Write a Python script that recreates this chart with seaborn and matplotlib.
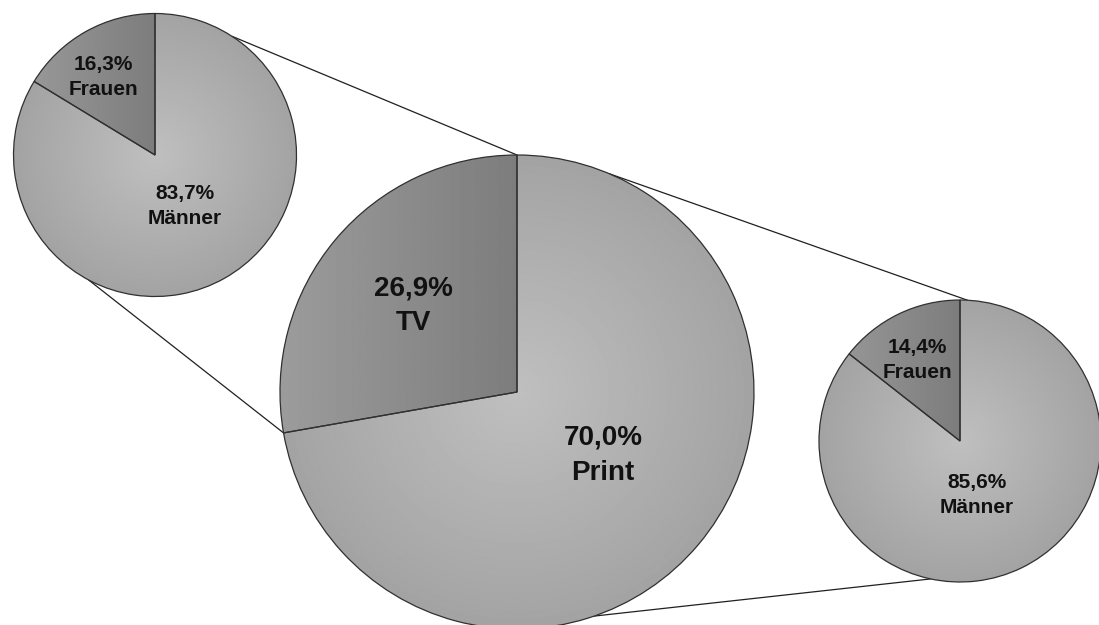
import numpy as np
import matplotlib
matplotlib.use("Agg")
import matplotlib.pyplot as plt
import seaborn as sns

# ---- data ----
media_labels = ["TV", "Print"]
media_values = [26.9, 70.0]
tv_labels = ["Frauen", "Männer"]
tv_values = [16.3, 83.7]
print_labels = ["Frauen", "Männer"]
print_values = [14.4, 85.6]

sns.set_theme(style="white")
plt.rcParams["font.family"] = ["Liberation Sans", "DejaVu Sans"]

W, H = 1099, 625
fig = plt.figure(figsize=(W / 100, H / 100), dpi=100)
ax = fig.add_axes([0, 0, 1, 1])
ax.set_xlim(0, W)
ax.set_ylim(0, H)
ax.set_aspect("equal")
ax.axis("off")

big_c, big_r = (517, 233), 237
left_c, left_r = (155, 470), 141.5
right_c, right_r = (960, 184), 141

def fmt(v):
    return f"{v:.1f}%".replace(".", ",")

def shade(wedge, cx, cy, r, kind, c0, c1):
    n = 500
    xs = np.linspace(cx - r, cx + r, n)
    ys = np.linspace(cy - r, cy + r, n)
    X, Y = np.meshgrid(xs, ys)
    if kind == "radial":
        t = np.hypot(X - cx, Y - cy) / r
    else:
        t = (X - (cx - r)) / r
    t = np.clip(t, 0, 1)
    img = c0 + (c1 - c0) * t
    im = ax.imshow(img, cmap="gray", vmin=0, vmax=1, origin="lower",
                   extent=(cx - r, cx + r, cy - r, cy + r), zorder=2,
                   interpolation="bilinear")
    im.set_clip_path(wedge)

def draw_pie(values, center, r):
    wedges, _ = ax.pie(values, center=center, radius=r, startangle=90,
                       counterclock=True, frame=False,
                       wedgeprops=dict(edgecolor="#303030", linewidth=0.9,
                                       facecolor="none", zorder=3))
    cx, cy = center
    shade(wedges[0], cx, cy, r, "linear", 0.61, 0.49)
    shade(wedges[1], cx, cy, r, "radial", 0.75, 0.64)
    return wedges

draw_pie(media_values, big_c, big_r)
draw_pie(tv_values, left_c, left_r)
draw_pie(print_values, right_c, right_r)
ax.set_xlim(0, W)
ax.set_ylim(0, H)

def pt(c, r, ang):
    a = np.deg2rad(ang)
    return c[0] + r * np.cos(a), c[1] + r * np.sin(a)

tv_end = 90 + 360 * media_values[0] / sum(media_values)
connectors = [
    (pt(left_c, left_r, 57), pt(big_c, big_r, 90)),
    (pt(left_c, left_r, 242), pt(big_c, big_r, tv_end)),
    (pt(big_c, big_r, 67), pt(right_c, right_r, 87)),
    (pt(big_c, big_r, 289), pt(right_c, right_r, 258)),
]
for p0, p1 in connectors:
    ax.plot([p0[0], p1[0]], [p0[1], p1[1]], color="#202020", lw=0.9, zorder=1)

txt = dict(ha="center", va="center", fontweight="bold", color="#111111", zorder=5)
ax.text(413, H - 306, f"{fmt(media_values[0])}\n{media_labels[0]}", fontsize=20, linespacing=1.45, **txt)
ax.text(603, H - 455, f"{fmt(media_values[1])}\n{media_labels[1]}", fontsize=20, linespacing=1.45, **txt)
ax.text(103, H - 77, f"{fmt(tv_values[0])}\n{tv_labels[0]}", fontsize=15, linespacing=1.38, **txt)
ax.text(185, H - 206, f"{fmt(tv_values[1])}\n{tv_labels[1]}", fontsize=15, linespacing=1.38, **txt)
ax.text(917, H - 360, f"{fmt(print_values[0])}\n{print_labels[0]}", fontsize=15, linespacing=1.38, **txt)
ax.text(977, H - 495, f"{fmt(print_values[1])}\n{print_labels[1]}", fontsize=15, linespacing=1.38, **txt)

fig.savefig("out.png", dpi=100)
